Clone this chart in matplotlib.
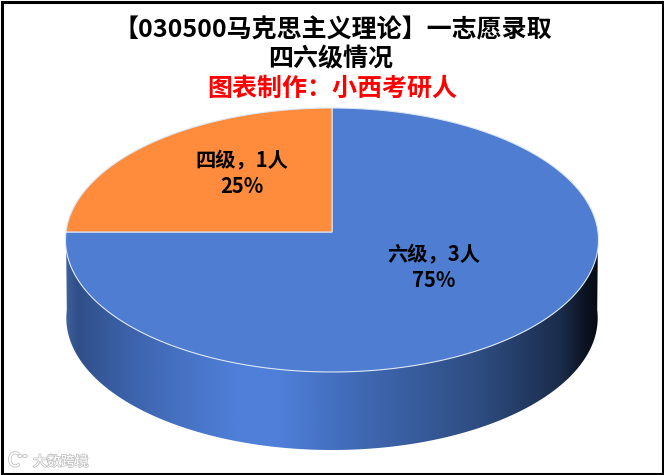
import numpy as np
import matplotlib
matplotlib.use("Agg")
import matplotlib.pyplot as plt
import matplotlib.patheffects as pe
from matplotlib.colors import LinearSegmentedColormap
from matplotlib.patches import Rectangle, PathPatch, Circle
from matplotlib.path import Path

plt.rcParams['font.family'] = ['Noto Sans CJK SC', 'DejaVu Sans']

categories = ['六级', '四级']
counts = [3, 1]
percents = ['75%', '25%']
colors = ['#4E7DD1', '#FF8B3D']
title_lines = ['【030500马克思主义理论】一志愿录取', '四六级情况']
credit = '图表制作\uff1a小西考研人'
watermark = '大数跨境'
COMMA = '\uff0c'

W, H = 664, 475
cx, cy = 332, 232          # pie centre in the picture
up, down, half_w = 124, 140, 266   # perspective extents of the disc
depth = 78

gamma = (down - up) / (down + up)
alpha = up * (1 + gamma)


def project(theta, shift=0.0, scale=1.0):
    """Circle angle -> picture offset, with the chart's perspective tilt."""
    X, Y = np.cos(theta), np.sin(theta)
    w = 1 + gamma * Y
    return half_w * scale * X / w, alpha * Y / w - shift


fig = plt.figure(figsize=(W / 100, H / 100), dpi=100, facecolor='white')
ax = fig.add_axes([0, 0, 1, 1])
ax.set_xlim(-cx, W - cx)
ax.set_ylim(-(H - cy), cy)
ax.axis('off')

# Pie slices, clockwise from 12 o'clock
fractions = np.array(counts) / sum(counts)
edges = np.pi / 2 - 2 * np.pi * np.r_[0, np.cumsum(fractions)]
for start, stop, colour in zip(edges[:-1], edges[1:], colors):
    t = np.linspace(start, stop, 300)
    px, py = project(t)
    ax.fill(np.r_[0, px], np.r_[0, py], facecolor=colour, edgecolor='#DCE6F5',
            linewidth=0.8, zorder=3, joinstyle='miter')

# Side wall of the disc with horizontal gradient
t = np.linspace(np.pi, 2 * np.pi, 300)
tx, ty = project(t)
bx, by = project(t, shift=depth, scale=0.997)
verts = np.r_[np.c_[tx, ty], np.c_[bx[::-1], by[::-1]], [[tx[0], ty[0]]]]
codes = [Path.MOVETO] + [Path.LINETO] * (len(verts) - 2) + [Path.CLOSEPOLY]
wall = PathPatch(Path(verts, codes), transform=ax.transData, facecolor='none', edgecolor='none')
ax.add_patch(wall)
cmap = LinearSegmentedColormap.from_list('wall', [
    (0.00, '#3E5F9C'), (0.02, '#304F88'), (0.10, '#3A5FA6'), (0.20, '#4570C0'),
    (0.32, '#4F7FD8'), (0.40, '#4F7FD8'), (0.50, '#4470C0'), (0.78, '#2E4C80'),
    (0.93, '#1B2D4C'), (0.98, '#0B1220'), (1.00, '#070B13')])
grad = np.linspace(0, 1, 512).reshape(1, -1)
im = ax.imshow(grad, cmap=cmap, extent=(-half_w, half_w, -(H - cy), 0), aspect='auto', zorder=2)
im.set_clip_path(wall)
ax.set_xlim(-cx, W - cx)
ax.set_ylim(-(H - cy), cy)

# Data labels
label_kw = dict(ha='center', va='center', fontsize=14.6, fontweight='bold',
                color='black', linespacing=1.28, zorder=5)
ax.text(102, -36, f'{categories[0]}{COMMA}{counts[0]}人\n{percents[0]}', **label_kw)
ax.text(-90, 58, f'{categories[1]}{COMMA}{counts[1]}人\n{percents[1]}', **label_kw)

# Titles
fig.text(333 / W, 1 - 30 / H, title_lines[0], ha='center', va='center', fontsize=18, fontweight='bold')
fig.text(331 / W, 1 - 59 / H, title_lines[1], ha='center', va='center', fontsize=18, fontweight='bold')
fig.text(332 / W, 1 - 89 / H, credit, ha='center', va='center', fontsize=18, fontweight='bold', color='#FF0000')

# Watermark
halo = [pe.withStroke(linewidth=1.2, foreground='#C4C4C4')]
fig.text(33 / W, 1 - 462 / H, watermark, ha='left', va='center', fontsize=10, color='white', path_effects=halo)
fig.text(14 / W, 1 - 461 / H, 'C', ha='center', va='center', fontsize=14, color='white', path_effects=halo)
for ox in (20, 25):
    fig.add_artist(Circle((ox / W, 1 - 456 / H), 2.2 / W, transform=fig.transFigure,
                          facecolor='white', edgecolor='#C4C4C4', linewidth=0.7))

# Outer border
fig.add_artist(Rectangle((1.5 / W, 1.5 / H), (W - 2.5) / W, (H - 3) / H, transform=fig.transFigure,
                         facecolor='none', edgecolor='black', linewidth=2.2))

fig.savefig('out.png', dpi=100, facecolor='white')
